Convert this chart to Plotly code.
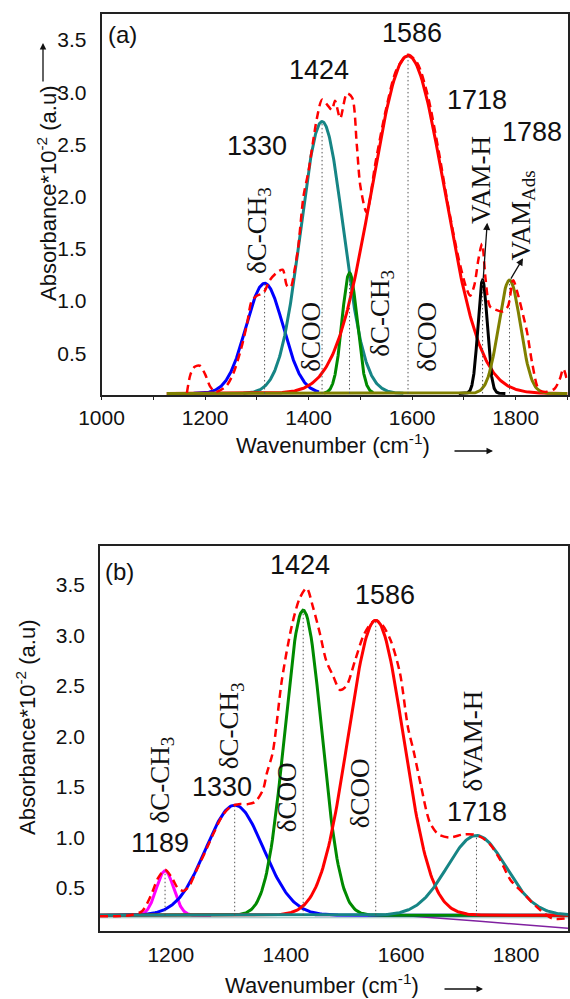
import numpy as np
import plotly.graph_objects as go

# ---------------- Panel (a) data ----------------
a_base = 0.115
a_center = [1315, 1426, 1479, 1592, 1736, 1788]
a_peak = [1.17, 2.72, 1.27, 3.35, 1.20, 1.20]
a_sigma = [36, 41, 14.5, 70, 9, 21]
a_xmin = [1178, 1274, 1430, 1126, 1690, 1126]
a_xmax = [1420, 1583, 1525, 1900, 1780, 1900]

exp_a_x = [1165, 1172, 1180, 1190, 1200, 1210, 1220, 1240, 1254, 1270, 1281, 1290, 1300,
           1313, 1325, 1338, 1350, 1358, 1365, 1373, 1380, 1390, 1400, 1409, 1416, 1426,
           1436, 1445, 1451, 1461, 1474, 1484, 1493, 1500, 1512, 1530, 1550, 1570, 1592,
           1610, 1630, 1650, 1670, 1690, 1705, 1712, 1720, 1728, 1735, 1742, 1750, 1760,
           1775, 1785, 1795, 1805, 1815, 1822, 1832, 1845, 1860, 1875, 1885, 1892, 1900]
exp_a_y = [0.12, 0.30, 0.37, 0.38, 0.30, 0.18, 0.13, 0.18, 0.30, 0.55, 0.78, 1.00, 1.05,
           1.08, 1.20, 1.27, 1.30, 1.15, 1.13, 1.30, 1.52, 2.00, 2.25, 2.54, 2.75, 2.93,
           2.88, 2.83, 2.92, 2.75, 2.99, 2.95, 2.50, 2.10, 1.85, 2.35, 2.85, 3.22, 3.36,
           3.28, 2.97, 2.47, 1.90, 1.40, 1.12, 1.05, 1.15, 1.40, 1.55, 1.20, 0.95, 0.92,
           0.90, 0.95, 1.20, 1.05, 0.85, 0.70, 0.40, 0.15, 0.13, 0.16, 0.25, 0.35, 0.22]

# ---------------- Panel (b) data ----------------
b_base = 0.23
b_center = [1190, 1311, 1430, 1556, 1731]
b_peak = [0.67, 1.32, 3.25, 3.15, 1.02]
b_sigma = [15, 50, 32, 48, 51]
b_xmin = [1120, 1077, 1077, 1077, 1077]
b_xmax = [1270, 1890, 1890, 1890, 1890]

exp_b_x = [1077, 1100, 1130, 1150, 1165, 1178, 1190, 1202, 1212, 1222, 1232, 1245, 1260,
           1275, 1290, 1305, 1318, 1333, 1346, 1360, 1367, 1377, 1393, 1410, 1424, 1436,
           1447, 1459, 1470, 1482, 1494, 1505, 1520, 1534, 1545, 1555, 1568, 1582, 1598,
           1612, 1622, 1635, 1650, 1665, 1685, 1708, 1725, 1740, 1755, 1772, 1790, 1812,
           1836, 1862, 1890]
exp_b_y = [0.22, 0.22, 0.23, 0.27, 0.42, 0.60, 0.68, 0.60, 0.50, 0.47, 0.52, 0.68, 0.86,
           1.05, 1.22, 1.31, 1.33, 1.33, 1.35, 1.47, 1.64, 1.84, 2.56, 3.09, 3.37, 3.47,
           3.28, 3.02, 2.75, 2.60, 2.46, 2.50, 2.75, 2.99, 3.10, 3.15, 3.10, 2.95, 2.63,
           2.09, 1.85, 1.50, 1.15, 1.03, 1.00, 1.03, 1.03, 1.00, 0.93, 0.78, 0.58, 0.45,
           0.31, 0.20, 0.20]

b_flat_x = [1077, 1890]
b_flat_y = [0.205, 0.205]
b_purple_x = [1450, 1610, 1737, 1890]
b_purple_y = [0.228, 0.225, 0.17, 0.10]

a_colors = ["#0000FF", "#168585", "#008A00", "#FF0000", "#000000", "#808000"]
b_colors = ["#FF00FF", "#0000FF", "#008A00", "#FF0000", "#168585"]

W, H = 570, 999
SANS = "Liberation Sans, Arial, sans-serif"
SERIF = "Liberation Serif, Times New Roman, serif"

fig = go.Figure()


def gauss(x, c, p, s, base):
    return base + (p - base) * np.exp(-(x - c) ** 2 / (2 * s ** 2))


def add_panel(centers, peaks, sigmas, xmins, xmaxs, base, colors, xa, ya):
    for c, p, s, x0, x1, col in zip(centers, peaks, sigmas, xmins, xmaxs, colors):
        xs = np.linspace(x0, x1, 400)
        fig.add_trace(go.Scatter(x=xs, y=gauss(xs, c, p, s, base), mode="lines",
                                 line=dict(color=col, width=3), xaxis=xa, yaxis=ya,
                                 showlegend=False, hoverinfo="skip"))
    for c, p in zip(centers, peaks):
        fig.add_trace(go.Scatter(x=[c, c], y=[base, p], mode="lines",
                                 line=dict(color="#555555", width=1, dash="1.5px,2.5px"),
                                 xaxis=xa, yaxis=ya, showlegend=False, hoverinfo="skip"))


# panel a
add_panel(a_center, a_peak, a_sigma, a_xmin, a_xmax, a_base, a_colors, "x", "y")
fig.add_trace(go.Scatter(x=exp_a_x, y=exp_a_y, mode="lines",
                         line=dict(color="#FF0000", width=2.5, dash="8px,5px", shape="spline", smoothing=0.8),
                         xaxis="x", yaxis="y", showlegend=False, hoverinfo="skip"))

# panel b
fig.add_trace(go.Scatter(x=b_flat_x, y=b_flat_y, mode="lines",
                         line=dict(color="#8FB8B8", width=1.2), xaxis="x2", yaxis="y2",
                         showlegend=False, hoverinfo="skip"))
fig.add_trace(go.Scatter(x=b_purple_x, y=b_purple_y, mode="lines",
                         line=dict(color="#8020A0", width=1.5), xaxis="x2", yaxis="y2",
                         showlegend=False, hoverinfo="skip"))
add_panel(b_center, b_peak, b_sigma, b_xmin, b_xmax, b_base, b_colors, "x2", "y2")
fig.add_trace(go.Scatter(x=exp_b_x, y=exp_b_y, mode="lines",
                         line=dict(color="#FF0000", width=2.5, dash="8px,5px", shape="spline", smoothing=0.8),
                         xaxis="x2", yaxis="y2", showlegend=False, hoverinfo="skip"))

axis_common = dict(showline=True, mirror=True, linecolor="#222222", linewidth=1.6,
                   showgrid=False, zeroline=False, automargin=False,
                   tickfont=dict(family=SANS, size=21, color="#111111"))

fig.update_layout(
    width=W, height=H, margin=dict(l=0, r=0, t=0, b=0, autoexpand=False),
    paper_bgcolor="white", plot_bgcolor="white", showlegend=False,
    xaxis=dict(domain=[101.5 / W, 567.5 / W], range=[1000, 1900], anchor="y",
               tickvals=[1000, 1200, 1400, 1600, 1800], ticks="outside", ticklen=3,
               tickcolor="#222222", minor=dict(dtick=100, ticks="outside", ticklen=3,
                                               tickcolor="#222222"),
               **axis_common),
    yaxis=dict(domain=[1 - 395 / H, 1 - 14 / H], range=[0.1, 3.75], anchor="x",
               tickvals=[0.5, 1.0, 1.5, 2.0, 2.5, 3.0, 3.5], tickformat=".1f",
               ticks="", ticklabelstandoff=9, **axis_common),
    xaxis2=dict(domain=[100 / W, 568 / W], range=[1077, 1890], anchor="y2",
                tickvals=[1200, 1400, 1600, 1800], ticks="", ticklabelstandoff=4,
                **axis_common),
    yaxis2=dict(domain=[1 - 931 / H, 1 - 546 / H], range=[0.074, 3.886], anchor="x2",
                tickvals=[0.5, 1.0, 1.5, 2.0, 2.5, 3.0, 3.5], tickformat=".1f",
                ticks="", ticklabelstandoff=9, **axis_common),
)

ann = []


def txt(x, y, s, size=27, xref="x", yref="y", angle=0, family=SANS):
    ann.append(dict(x=x, y=y, xref=xref, yref=yref, text=s, showarrow=False,
                    textangle=angle, xanchor="center", yanchor="middle",
                    font=dict(family=family, size=size, color="#111111")))


# panel (a) labels
txt(1040, 3.55, "(a)", size=24)
txt(1300, 2.49, "1330")
txt(1420, 3.21, "1424")
txt(1600, 3.57, "1586")
txt(1725, 2.93, "1718")
txt(1832, 2.62, "1788")
txt(1304, 1.68, "δC-CH<sub>3</sub>", angle=-90, family=SERIF)
txt(1403, 0.66, "δCOO", angle=-90, family=SERIF)
txt(1540, 0.88, "δC-CH<sub>3</sub>", angle=-90, family=SERIF)
txt(1627, 0.66, "δCOO", angle=-90, family=SERIF)
txt(1733, 2.16, "VAM-H", angle=-90, family=SERIF)
txt(1814, 1.82, "VAM<sub>Ads</sub>", angle=-90, family=SERIF)

for hx, hy, tx, ty in [(1745, 1.75, 1737, 1.2), (1814, 1.41, 1789, 1.2)]:
    ann.append(dict(x=hx, y=hy, ax=tx, ay=ty, xref="x", yref="y", axref="x", ayref="y",
                    text="", showarrow=True, arrowhead=2, arrowsize=1.1, arrowwidth=1.3,
                    arrowcolor="#111111"))

# panel (b) labels
txt(1111, 3.63, "(b)", size=24, xref="x2", yref="y2")
txt(1181, 0.95, "1189", xref="x2", yref="y2")
txt(1289, 1.50, "1330", xref="x2", yref="y2")
txt(1424, 3.70, "1424", xref="x2", yref="y2")
txt(1572, 3.40, "1586", xref="x2", yref="y2")
txt(1732, 1.25, "1718", xref="x2", yref="y2")
txt(1184, 1.57, "δC-CH<sub>3</sub>", xref="x2", yref="y2", angle=-90, family=SERIF)
txt(1306, 2.11, "δC-CH<sub>3</sub>", xref="x2", yref="y2", angle=-90, family=SERIF)
txt(1402, 1.40, "δCOO", xref="x2", yref="y2", angle=-90, family=SERIF)
txt(1529, 1.44, "δCOO", xref="x2", yref="y2", angle=-90, family=SERIF)
txt(1725, 1.95, "δVAM-H", xref="x2", yref="y2", angle=-90, family=SERIF)

# axis titles (paper coords from pixel positions)
def px(x, y):
    return x / W, 1 - y / H


xt = "Wavenumber (cm<sup>-1</sup>)"
yt = "Absorbance*10<sup>-2</sup> (a.u)"
x0, y0 = px(333, 444)
txt(x0, y0, xt, size=22, xref="paper", yref="paper")
x0, y0 = px(322, 984)
txt(x0, y0, xt, size=22, xref="paper", yref="paper")
x0, y0 = px(47, 193)
txt(x0, y0, yt, size=22, xref="paper", yref="paper", angle=-90)
x0, y0 = px(26, 727)
txt(x0, y0, yt, size=22, xref="paper", yref="paper", angle=-90)

for (hx, hy, dx, dy) in [(493, 451, -40, 0), (483, 989, -40, 0), (43, 43, 0, 40)]:
    x0, y0 = px(hx, hy)
    ann.append(dict(x=x0, y=y0, xref="paper", yref="paper", ax=dx, ay=dy, text="",
                    showarrow=True, arrowhead=2, arrowsize=1, arrowwidth=1.3,
                    arrowcolor="#111111"))

fig.update_layout(annotations=ann)
fig.write_html("out.html")
